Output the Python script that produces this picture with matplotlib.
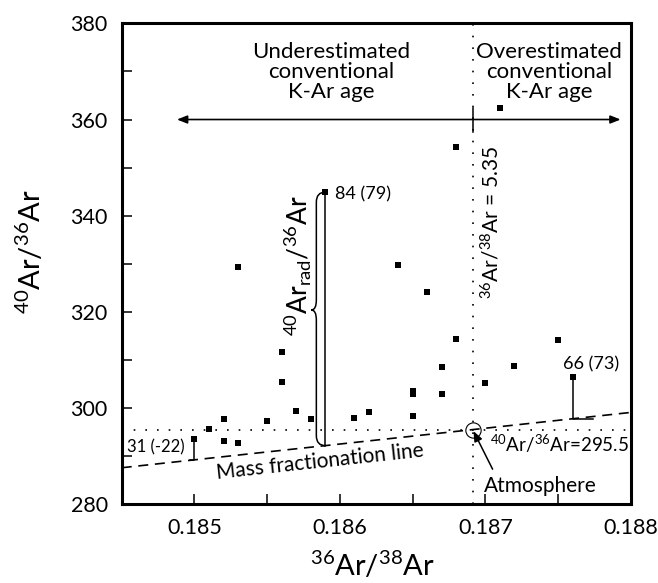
import numpy as np
import matplotlib
matplotlib.use('Agg')
import matplotlib.pyplot as plt
from matplotlib.path import Path
from matplotlib.patches import PathPatch

plt.rcParams['font.family'] = ['Lato', 'DejaVu Sans']
plt.rcParams['mathtext.fontset'] = 'custom'
plt.rcParams['mathtext.rm'] = 'Lato'

# ---- data ----
ar36_38 = [0.1871, 0.1868, 0.1859, 0.1853, 0.1864, 0.1866, 0.1868, 0.1875,
           0.1856, 0.1867, 0.1872, 0.1876, 0.1856, 0.1870, 0.1865, 0.1865,
           0.1867, 0.1857, 0.1862, 0.1852, 0.1855, 0.1858, 0.1861, 0.1865,
           0.1851, 0.1850, 0.1852, 0.1853]
ar40_36 = [362.4, 354.3, 344.9, 329.4, 329.8, 324.2, 314.3, 314.2,
           311.7, 308.6, 308.7, 306.4, 305.5, 305.3, 303.6, 303.0,
           303.0, 299.5, 299.1, 297.8, 297.3, 297.7, 297.9, 298.4,
           295.6, 293.5, 293.2, 292.8]

# labelled samples
lab_x = [0.1859, 0.1876, 0.1850]
lab_y = [344.9, 306.4, 293.5]
lab_txt = ['84 (79)', '66 (73)', '31 (-22)']

atm_40_36 = 295.5
atm_36_38 = 1 / 5.35
mfl_x = [0.1845, 0.188]
mfl_y = [287.6, 299.1]

XMIN, XMAX = 0.1845, 0.188
YMIN, YMAX = 280, 380

fig = plt.figure(figsize=(6.58, 5.83), dpi=100)
ax = fig.add_axes([0.185, 0.135, 0.7736, 0.825])
ax.set_xlim(XMIN, XMAX)
ax.set_ylim(YMIN, YMAX)

# pixel -> data helpers (for the brackets)
ax_w = 0.7736 * 658
ax_h = 0.825 * 583
dxp = (XMAX - XMIN) / ax_w
dyp = (YMAX - YMIN) / ax_h

def mfl(x):
    return np.interp(x, mfl_x, mfl_y)

# reference lines
ax.axhline(atm_40_36, color='k', lw=1.2, ls=(0, (1, 6)))
ax.axvline(atm_36_38, color='k', lw=1.2, ls=(0, (1, 6)))
ax.plot(mfl_x, mfl_y, color='k', lw=1.2, ls=(0, (6, 4)))

# samples
ax.plot(ar36_38, ar40_36, 's', color='k', ms=4.8, mew=0, zorder=5)
ax.plot(atm_36_38, atm_40_36, 'o', ms=11, mfc='none', mec='k', mew=0.8, zorder=5)

# brace + brackets down to the mass fractionation line
x0, y0 = lab_x[0], lab_y[0]
yb = mfl(x0)
ax.plot([x0, x0], [y0, yb], color='k', lw=1.1)
w1, w2, r = 9 * dxp, 14 * dxp, 10 * dyp
ym = 320.4
verts = [(x0, y0), (x0 - w1, y0), (x0 - w1, y0 - r),
         (x0 - w1, ym + r),
         (x0 - w1, ym), (x0 - w2, ym),
         (x0 - w1, ym), (x0 - w1, ym - r),
         (x0 - w1, yb + r),
         (x0 - w1, yb), (x0, yb)]
codes = [Path.MOVETO, Path.CURVE3, Path.CURVE3, Path.LINETO,
         Path.CURVE3, Path.CURVE3, Path.CURVE3, Path.CURVE3,
         Path.LINETO, Path.CURVE3, Path.CURVE3]
ax.add_patch(PathPatch(Path(verts, codes), fc='none', ec='k', lw=1.1))

x1, y1 = lab_x[1], lab_y[1]
ax.plot([x1, x1, x1 + 20 * dxp], [y1, mfl(x1), mfl(x1)], color='k', lw=1.1)
x2, y2 = lab_x[2], lab_y[2]
ax.plot([x2, x2, x2 - 4 * dxp], [y2, mfl(x2), mfl(x2)], color='k', lw=1.1)

ax.text(x0 + 10 * dxp, 344.5, lab_txt[0], fontsize=13, ha='left', va='center')
ax.text(x1 - 10 * dxp, 309.0, lab_txt[1], fontsize=13, ha='left', va='center')
ax.text(x2 - 10 * dxp, 291.8, lab_txt[2], fontsize=12, ha='right', va='center')

# double arrow
ax.annotate('', xy=(0.18793, 360), xytext=(0.18488, 360),
            arrowprops=dict(arrowstyle='<|-|>,head_length=0.5,head_width=0.2',
                            color='k', lw=1.2, mutation_scale=12,
                            shrinkA=0, shrinkB=0))
ax.plot([atm_36_38, atm_36_38], [357.5, 362.4], color='k', lw=1.1)

ax.text(0.18594, 369.8, 'Underestimated\nconventional\nK-Ar age',
        fontsize=16, ha='center', va='center', linespacing=1.0)
ax.text(0.18744, 369.8, 'Overestimated\nconventional\nK-Ar age',
        fontsize=16, ha='center', va='center', linespacing=1.0)

ax.text(0.18704, 338.5, r'$\mathregular{^{36}Ar/^{38}Ar}$ = 5.35',
        fontsize=15, rotation=90, ha='center', va='center')
ax.text(0.18571, 329.7, r'$\mathregular{^{40}Ar_{rad}/^{36}Ar}$',
        fontsize=19, rotation=90, ha='center', va='center')
ax.text(0.18586, 288.8, 'Mass fractionation line', fontsize=15,
        rotation=6.2, ha='center', va='center', rotation_mode='anchor')
ax.text(0.18703, 292.5, r'$\mathregular{^{40}Ar/^{36}Ar}$=295.5',
        fontsize=13.5, ha='left', va='center')
ax.text(0.18699, 283.9, 'Atmosphere', fontsize=15, ha='left', va='center')
ax.annotate('', xy=(atm_36_38 + 0.000003, atm_40_36 - 0.3),
            xytext=(0.18705, 287.3),
            arrowprops=dict(arrowstyle='-|>,head_length=0.6,head_width=0.25',
                            color='k', lw=1.1, mutation_scale=10,
                            shrinkA=0, shrinkB=0))

# axes styling
for s in ax.spines.values():
    s.set_linewidth(2.2)
ax.set_xticks([0.185, 0.186, 0.187, 0.188])
ax.set_xticks([0.1845, 0.1855, 0.1865, 0.1875], minor=True)
ax.set_xticklabels(['0.185', '0.186', '0.187', '0.188'])
ax.set_yticks(np.arange(280, 381, 20))
ax.set_yticks(np.arange(290, 380, 20), minor=True)
ax.tick_params(which='both', direction='in', length=7, width=1.1,
               labelsize=15.5, pad=10)

fig.text(372 / 658, 1 - 576 / 583, r'$\mathregular{^{36}Ar/^{38}Ar}$',
         fontsize=21, ha='center', va='baseline')
fig.text(30 / 658, 1 - 252 / 583, r'$\mathregular{^{40}Ar/^{36}Ar}$',
         fontsize=21, ha='center', va='center', rotation=90)

fig.savefig('out.png', dpi=100)
